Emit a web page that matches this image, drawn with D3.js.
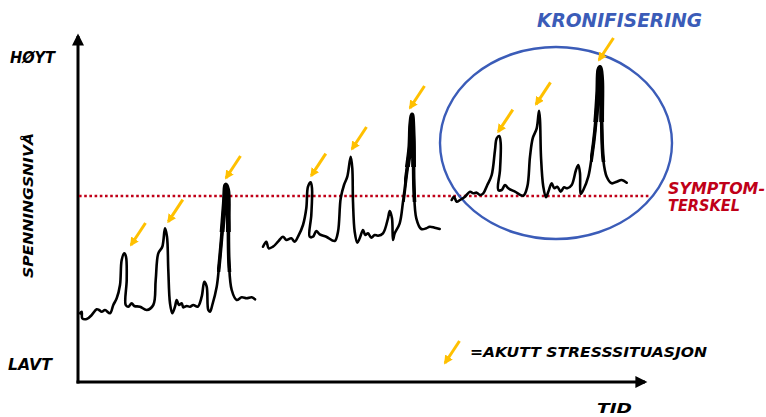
<!DOCTYPE html>
<html>
<head>
<meta charset="utf-8">
<script src="https://cdn.jsdelivr.net/npm/d3@7"></script>
<style>
  body { margin: 0; background: #fff; }
  svg { display: block; }
  text { font-family: "DejaVu Sans", sans-serif; font-weight: bold; font-style: italic; }
</style>
</head>
<body>
<div id="chart"></div>
<script>
// time (x) and tension level (y) in plot units
const episode1 = [
  [2, 68.7], [3.7, 70.3], [4.3, 63.7], [8.7, 63], [13.7, 67], [18.7, 72.7], [21, 72],
  [23.7, 70.3], [27, 72], [32, 68.7], [35.3, 77], [38.7, 83.7], [42, 97], [43.7, 122],
  [46.3, 128.7], [48, 125.3], [48.7, 102], [47.7, 77], [50.3, 75.3], [53.7, 78.7],
  [56.3, 76], [62, 75.3], [68.7, 72], [75.3, 77], [77.7, 102], [80.3, 128.7],
  [84.3, 135.3], [87, 153.7], [89, 145.3], [90.3, 112], [92, 78.7], [94.3, 68.7],
  [97, 75.3], [98.7, 82], [101, 77], [103.7, 78.7], [105.3, 74.7], [108.7, 76],
  [112, 75.3], [115.3, 77], [119.7, 75.3], [123.7, 85.3], [126.3, 100.3], [128.7, 95.3],
  [130.3, 72], [132, 70.3], [134.3, 77], [138.7, 95.3], [141, 115.3], [143.7, 145.3],
  [146.3, 178.7], [147.7, 197], [149.7, 192], [150.3, 162], [151, 118.7], [153.7, 92],
  [158.7, 82], [163.7, 84.7], [168.7, 83.7], [173.7, 84.7], [177, 82.7]
];
const episode2 = [
  [185, 135.3], [188.3, 140.3], [190.7, 133.7], [195, 135.3], [200, 140.3], [205, 145.3],
  [208.3, 142], [213.3, 143.7], [216.7, 140.3], [220, 145.3], [225, 157], [228.3, 173.7],
  [230, 195.3], [232.7, 199.7], [234, 193.7], [233.3, 167], [231.7, 145.3], [235, 145.3],
  [238.3, 151], [241.7, 147.7], [248.3, 145.3], [256.7, 141], [260, 150.3], [262.7, 183.7],
  [266, 197], [269.3, 205.3], [272.7, 225.3], [274.3, 213.7], [275, 180.3], [276.7, 150.3],
  [279.3, 139.3], [281.7, 143.7], [285, 152], [287.3, 147], [290, 148.7], [293.3, 144.3],
  [296.7, 147], [300, 146.3], [305, 148.7], [310, 163.7], [311.7, 171], [314, 163.7],
  [315, 142], [316.7, 148.7], [321.7, 158.7], [325, 180.3], [328.3, 207], [331.7, 233.7],
  [332.7, 257], [334, 267], [335.3, 243.7], [336, 193.7], [338.3, 163.7], [343.3, 153],
  [348.3, 153.7], [351.7, 155.3], [356.7, 154.3], [361.7, 153]
];
const episode3 = [
  [373.7, 182], [376, 185.3], [378.7, 180.3], [382, 182], [387, 185.3], [392, 190.3],
  [395.3, 188.7], [398.7, 189.3], [402, 187], [405.3, 188.7], [409.3, 197], [413.7, 207],
  [417, 232], [418.7, 243.7], [421.3, 246], [422.7, 238.7], [422, 212], [420.3, 192],
  [423.7, 192], [427, 197], [430.3, 193.7], [437, 190.3], [445.3, 186.3], [449.3, 195.3],
  [452, 225.3], [454.7, 243.7], [458.7, 253.7], [461, 271.3], [462, 262], [463, 225.3],
  [465.3, 195.3], [468, 184.7], [470.3, 190.3], [473.7, 198.7], [476.3, 193.7],
  [479.3, 195.3], [482.7, 190.3], [486, 194.7], [489.3, 193.7], [493.7, 197], [498, 212],
  [500.3, 217], [502, 208.7], [502.7, 188], [505.3, 192], [510.3, 205.3], [513.7, 225.3],
  [517, 252], [519.7, 288.7], [520.7, 312], [522, 314.7], [523.7, 302], [523.7, 258.7],
  [525.3, 222], [528.7, 205.3], [533.7, 198.7], [538.7, 200.3], [543.7, 202], [548.7, 199.3]
];
// box [x0, x1, y0, y1] around the tall spike of each episode (drawn heavier)
const spikeBoxes = [[139, 156, 110, 205], [326, 341, 180, 275], [512, 530, 220, 322]];
const spikeTops = [[139, 156, 150, 205], [326, 341, 215, 275], [512, 530, 260, 322]];

// where the acute-stress arrows point
const stressArrows = [
  [53, 137], [90.3, 160.3], [148, 204],
  [233.3, 206.3], [274, 233], [332, 274],
  [420.3, 250.3], [458, 277.7], [521, 322]
];

const threshold = 186;
const chronicZone = { cx: 478, cy: 239, rx: 116, ry: 96 };

const labels = {
  high: 'HØYT', low: 'LAVT', yTitle: 'SPENNINGSNIVÅ', xTitle: 'TID',
  zone: 'KRONIFISERING', threshold: ['SYMPTOM-', 'TERSKEL'], legend: '=AKUTT STRESSSITUASJON'
};

const width = 766;
const height = 417;
const orange = '#ffc000';
const blue = '#3b5cb8';
const red = '#c00018';

const x = d3.scaleLinear().domain([0, 567]).range([78, 645]);
const y = d3.scaleLinear().domain([0, 346]).range([382, 36]);

const svg = d3.select('#chart')
  .append('svg')
  .attr('width', width)
  .attr('height', height);

const defs = svg.append('defs');
const marker = (id, colour, w, h) =>
  defs.append('marker')
    .attr('id', id)
    .attr('viewBox', '0 0 10 10')
    .attr('refX', 8)
    .attr('refY', 5)
    .attr('markerUnits', 'userSpaceOnUse')
    .attr('markerWidth', w)
    .attr('markerHeight', h)
    .attr('orient', 'auto')
    .append('path')
    .attr('d', 'M0,0 L10,5 L0,10 Z')
    .attr('fill', colour);
marker('axis-head', '#000', 14, 12);
marker('stress-head', orange, 9, 9);

const clipBox = (id, b) =>
  defs.append('clipPath')
    .attr('id', id)
    .append('rect')
    .attr('x', x(b[0]))
    .attr('y', y(b[3]))
    .attr('width', x(b[1]) - x(b[0]))
    .attr('height', y(b[2]) - y(b[3]));
spikeBoxes.forEach((b, i) => clipBox(`spike-${i}`, b));
spikeTops.forEach((b, i) => clipBox(`top-${i}`, b));

// axes
svg.append('line')
  .attr('x1', x(0)).attr('y1', y(0) + 1.5)
  .attr('x2', x(0)).attr('y2', y(346))
  .attr('stroke', '#000').attr('stroke-width', 3)
  .attr('marker-end', 'url(#axis-head)');
svg.append('line')
  .attr('x1', x(0) - 1.5).attr('y1', y(0))
  .attr('x2', x(567)).attr('y2', y(0))
  .attr('stroke', '#000').attr('stroke-width', 3)
  .attr('marker-end', 'url(#axis-head)');

// symptom threshold
svg.append('line')
  .attr('x1', x(1)).attr('x2', x(572))
  .attr('y1', y(threshold)).attr('y2', y(threshold))
  .attr('stroke', red).attr('stroke-width', 2.6)
  .attr('stroke-dasharray', '2.6 2.6');

// chronification zone
svg.append('ellipse')
  .attr('cx', x(chronicZone.cx)).attr('cy', y(chronicZone.cy))
  .attr('rx', x(chronicZone.rx) - x(0)).attr('ry', y(0) - y(chronicZone.ry))
  .attr('fill', 'none').attr('stroke', blue).attr('stroke-width', 2.4);

// tension curves
const line = d3.line()
  .x(d => x(d[0]))
  .y(d => y(d[1]))
  .curve(d3.curveCatmullRom.alpha(0.5));

[episode1, episode2, episode3].forEach((episode, i) => {
  svg.append('path')
    .attr('d', line(episode))
    .attr('fill', 'none')
    .attr('stroke', '#000')
    .attr('stroke-width', 2.6)
    .attr('stroke-linejoin', 'round')
    .attr('stroke-linecap', 'round');
  [[`spike-${i}`, 3.6], [`top-${i}`, 4.8]].forEach(([clip, w]) => {
    svg.append('path')
      .attr('d', line(episode))
      .attr('clip-path', `url(#${clip})`)
      .attr('fill', 'none')
      .attr('stroke', '#000')
      .attr('stroke-width', w)
      .attr('stroke-linejoin', 'round');
  });
});

// stress arrows
const arrow = (tx, ty) =>
  svg.append('line')
    .attr('x1', tx + 14.5).attr('y1', ty - 22)
    .attr('x2', tx).attr('y2', ty)
    .attr('stroke', orange).attr('stroke-width', 3)
    .attr('marker-end', 'url(#stress-head)');

stressArrows.forEach(d => arrow(x(d[0]), y(d[1])));

// texts
const text = (str, px, py, size, len, colour = '#000') =>
  svg.append('text')
    .attr('x', px).attr('y', py)
    .attr('font-size', size)
    .attr('fill', colour)
    .attr('textLength', len)
    .attr('lengthAdjust', 'spacingAndGlyphs')
    .text(str);

text(labels.high, 10, 63, 15, 45);
text(labels.low, 8, 370, 15, 44);
text(labels.xTitle, 597, 413, 14, 35);
text(labels.zone, 537, 27, 19, 165, blue);
text(labels.threshold[0], 668, 194, 15, 97, red);
text(labels.threshold[1], 668, 211, 15, 72, red);

svg.append('text')
  .attr('transform', 'translate(33,278) rotate(-90)')
  .attr('font-size', 14)
  .attr('textLength', 145)
  .attr('lengthAdjust', 'spacingAndGlyphs')
  .text(labels.yTitle);

// legend
arrow(445, 363);
text(labels.legend, 470, 357, 14, 237).attr('font-style', 'normal');
</script>
</body>
</html>
